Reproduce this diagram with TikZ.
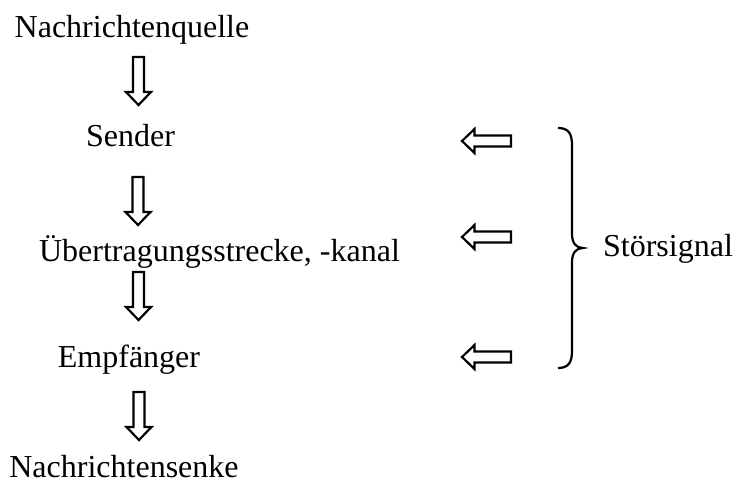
\documentclass[tikz,border=0pt]{standalone}
\usepackage{fontspec}
\setmainfont{Liberation Serif}
\begin{document}
\begin{tikzpicture}[x=0.5pt,y=-0.5pt,
  lbl/.style={anchor=base,inner sep=0pt,font=\fontsize{16}{19}\selectfont},
  outline/.style={draw=black,line width=1.1pt,line join=miter,fill=white},
  downarrow/.pic={\draw[outline] (-5.5,0) -- (5.5,0) -- (5.5,35) -- (12.5,35) -- (0,48) -- (-12.5,35) -- (-5.5,35) -- cycle;},
  leftarrow/.pic={\draw[outline] (0,0) -- (12.5,-12) -- (12.5,-5.5) -- (49,-5.5) -- (49,5.5) -- (12.5,5.5) -- (12.5,12) -- cycle;}
]
\useasboundingbox (0,0) rectangle (745,482);
\node[lbl] (src)    at (132,37)   {Nachrichtenquelle};
\node[lbl] (sender) at (130.5,146) {Sender};
\node[lbl] (kanal)  at (219.5,261) {Übertragungsstrecke, -kanal};
\node[lbl] (empf)   at (129,367)  {Empfänger};
\node[lbl] (senke)  at (124,477)  {Nachrichtensenke};
\node[lbl] (stoer)  at (668,256)  {Störsignal};
% block arrows down
\pic at (138.5,57) {downarrow};
\pic at (138,177) {downarrow};
\pic at (138.5,272) {downarrow};
\pic at (139,392) {downarrow};
% block arrows left
\pic at (462,141) {leftarrow};
\pic at (462,237) {leftarrow};
\pic at (462,357) {leftarrow};
% brace
\draw[line width=1.1pt] (558,128) .. controls (568,128) and (572,133) .. (572,145) -- (572,234)
  .. controls (572,243) and (576,248) .. (583,248)
  .. controls (576,248) and (572,253) .. (572,262) -- (572,351)
  .. controls (572,363) and (568,368) .. (558,368);
\end{tikzpicture}
\end{document}
